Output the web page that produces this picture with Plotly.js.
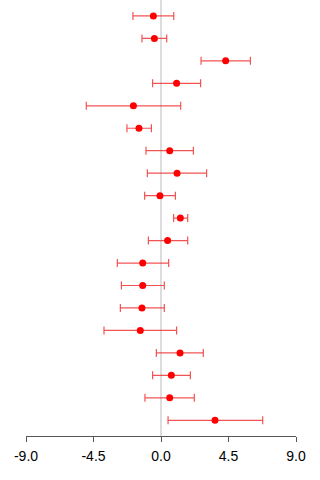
<!DOCTYPE html>
<html>
<head>
<meta charset="utf-8">
<script src="https://cdn.plot.ly/plotly-3.0.1.min.js"></script>
<style>
  html, body { margin: 0; padding: 0; background: #fff; }
  #chart { width: 320px; height: 480px; }
</style>
</head>
<body>
<div id="chart"></div>
<script>
// Study rows, top to bottom
const rows = [1, 2, 3, 4, 5, 6, 7, 8, 9, 10, 11, 12, 13, 14, 15, 16, 17, 18, 19];
// Point estimates
const estimate = [-0.51, -0.44, 4.31, 1.04, -1.84, -1.47, 0.58, 1.07, -0.07, 1.29,
                  0.44, -1.22, -1.22, -1.27, -1.38, 1.27, 0.69, 0.58, 3.60];
// Interval bounds
const lower = [-1.87, -1.27, 2.67, -0.56, -4.98, -2.27, -1.00, -0.91, -1.09, 0.84,
               -0.84, -2.91, -2.64, -2.71, -3.80, -0.31, -0.56, -1.07, 0.47];
const upper = [0.85, 0.38, 5.96, 2.64, 1.31, -0.64, 2.16, 3.04, 0.96, 1.78,
               1.78, 0.51, 0.22, 0.22, 1.04, 2.82, 1.96, 2.22, 6.78];
// X axis ticks
const tickValues = [-9, -4.5, 0, 4.5, 9];
const tickLabels = ['-9.0', '-4.5', '0.0', '4.5', '9.0'];

const plusErr = upper.map((u, i) => u - estimate[i]);
const minusErr = lower.map((l, i) => estimate[i] - l);

const trace = {
  type: 'scatter',
  mode: 'markers',
  x: estimate,
  y: rows,
  marker: { color: '#ff0000', size: 7 },
  error_x: {
    type: 'data',
    symmetric: false,
    array: plusErr,
    arrayminus: minusErr,
    color: 'rgba(240,40,40,0.8)',
    thickness: 1.2,
    width: 4
  },
  hoverinfo: 'x+y',
  showlegend: false
};

const layout = {
  width: 320,
  height: 480,
  margin: { l: 26, r: 24, t: 0, b: 44 },
  paper_bgcolor: '#ffffff',
  plot_bgcolor: '#ffffff',
  font: { family: 'Liberation Sans, Arial, sans-serif', size: 14, color: '#000' },
  xaxis: {
    range: [-9, 9],
    autorange: false,
    tickmode: 'array',
    tickvals: tickValues,
    ticktext: tickLabels,
    ticks: 'outside',
    ticklen: 5,
    tickcolor: '#555',
    tickwidth: 1,
    showline: true,
    linecolor: '#555',
    linewidth: 1,
    showgrid: false,
    zeroline: true,
    zerolinecolor: '#dddddd',
    zerolinewidth: 2,
    tickfont: { size: 14, color: '#000' },
    ticklabelstandoff: 2,
    fixedrange: true
  },
  yaxis: {
    range: [19.7, 0.29],
    autorange: false,
    visible: false,
    showgrid: false,
    zeroline: false,
    fixedrange: true
  }
};

Plotly.newPlot('chart', [trace], layout, { displayModeBar: false, staticPlot: true });
</script>
</body>
</html>
